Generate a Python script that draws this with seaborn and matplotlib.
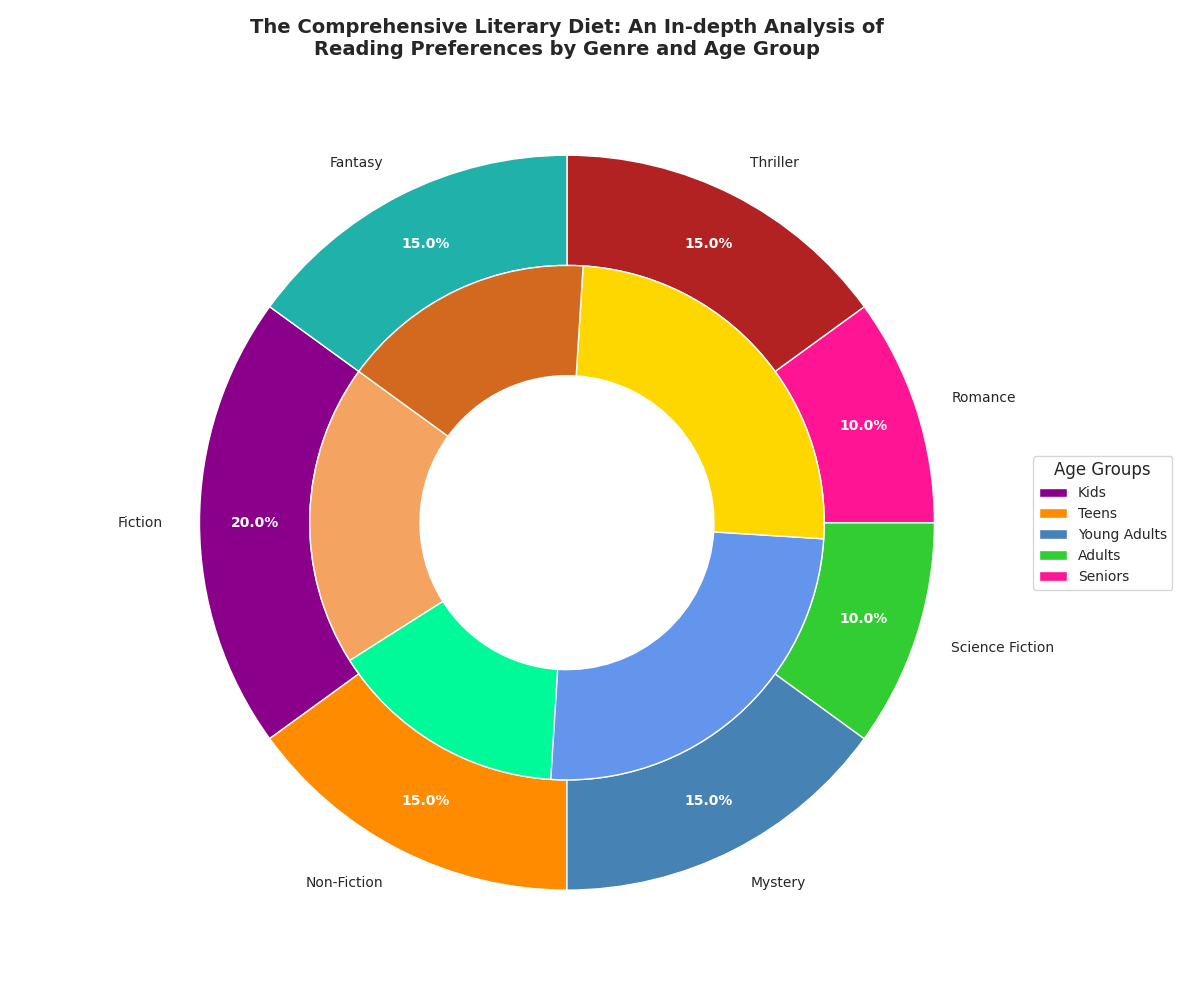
import matplotlib
matplotlib.use("Agg")
import matplotlib.pyplot as plt
import seaborn as sns
from matplotlib.patches import Patch

sns.set_theme(style="white")
plt.rcParams['font.family'] = ['DejaVu Sans']

genres = ["Fiction", "Non-Fiction", "Mystery", "Science Fiction", "Romance", "Thriller", "Fantasy"]
genre_share = [20, 15, 15, 10, 10, 15, 15]
genre_colors = ["#8B008B", "#FF8C00", "#4682B4", "#32CD32", "#FF1493", "#B22222", "#20B2AA"]
inner_values = [19, 15, 25, 25, 16]
inner_colors = ["#F4A460", "#00FA9A", "#6495ED", "#FFD700", "#D2691E"]
age_groups = ["Kids", "Teens", "Young Adults", "Adults", "Seniors"]

fig, ax = plt.subplots(figsize=(12, 10), dpi=100)
wedges, texts, autotexts = ax.pie(genre_share, labels=genres, colors=genre_colors, startangle=144,
       radius=1, autopct="%1.1f%%", pctdistance=0.85, labeldistance=1.1,
       wedgeprops=dict(width=0.3, edgecolor="white"), textprops=dict(fontsize=10))
for t in autotexts:
    t.set_color("white"); t.set_fontweight("bold")
ax.pie(inner_values, colors=inner_colors, startangle=144, radius=0.7,
       wedgeprops=dict(width=0.3, edgecolor="white"))
ax.set_aspect("equal")
handles = [Patch(facecolor=c) for c in genre_colors[:5]]
ax.legend(handles, age_groups, title="Age Groups", loc="center left", bbox_to_anchor=(1.0, 0.5), fontsize=10)
ax.set_title("The Comprehensive Literary Diet: An In-depth Analysis of\nReading Preferences by Genre and Age Group",
             fontsize=14, fontweight="bold")
plt.tight_layout()
fig.savefig("out.png")
